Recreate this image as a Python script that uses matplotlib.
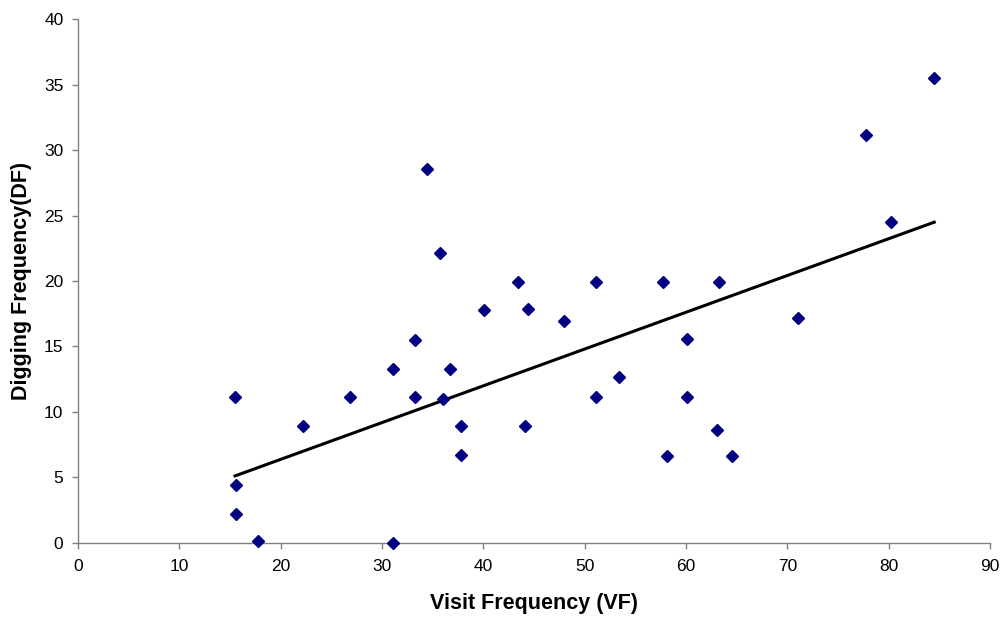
import matplotlib.pyplot as plt
import numpy as np

plt.rcParams['font.family'] = ['Liberation Sans', 'DejaVu Sans']

# Visit frequency (VF) and digging frequency (DF)
vf = [15.5, 15.6, 15.6, 17.8, 22.2, 26.8, 31.1, 31.1, 33.3, 33.3,
      34.4, 35.7, 36.0, 36.7, 37.8, 37.8, 40.1, 43.4, 44.1, 44.4,
      48.0, 51.1, 51.1, 53.4, 57.7, 58.1, 60.1, 60.1, 63.1, 63.3,
      64.5, 71.1, 77.8, 80.2, 84.5]
df = [11.1, 4.4, 2.2, 0.15, 8.9, 11.1, 13.3, 0.0, 15.5, 11.1,
      28.55, 22.15, 10.95, 13.3, 8.9, 6.7, 17.75, 19.95, 8.9, 17.85,
      16.95, 19.95, 11.1, 12.7, 19.95, 6.65, 15.55, 11.1, 8.6, 19.95,
      6.65, 17.2, 31.15, 24.5, 35.55]

# trend line as drawn on the chart (slope, intercept)
trend_slope = 0.281
trend_intercept = 0.75

x = np.array(vf)
y = np.array(df)

xt = np.linspace(x.min(), x.max(), 100)
yt = trend_slope * xt + trend_intercept

fig = plt.figure(figsize=(10.04, 6.18), dpi=100)
ax = fig.add_axes([0.0777, 0.1218, 0.9083, 0.847])

ax.plot(xt, yt, color='black', linewidth=2.2, zorder=2)
ax.plot(x, y, linestyle='none', marker='D', markersize=6.2,
        color='#000080', zorder=3, clip_on=False)

ax.set_xlim(0, 90)
ax.set_ylim(0, 40)
ax.set_xticks(np.arange(0, 91, 10))
ax.set_yticks(np.arange(0, 41, 5))

for side in ['top', 'right']:
    ax.spines[side].set_visible(False)
for side in ['left', 'bottom']:
    ax.spines[side].set_color('#808080')
    ax.spines[side].set_linewidth(1.0)

ax.tick_params(direction='out', length=4, width=1, color='#808080',
               labelsize=12.5, labelcolor='black')
ax.tick_params(axis='x', pad=8)
ax.tick_params(axis='y', pad=6.5)

ax.set_xlabel('Visit Frequency (VF)', fontsize=15.5, fontweight='bold')
ax.set_ylabel('Digging Frequency(DF)', fontsize=15.5, fontweight='bold')
ax.xaxis.set_label_coords(0.5, -0.096)
ax.yaxis.set_label_coords(-0.05, 0.5)

fig.savefig('out.png', dpi=100)
